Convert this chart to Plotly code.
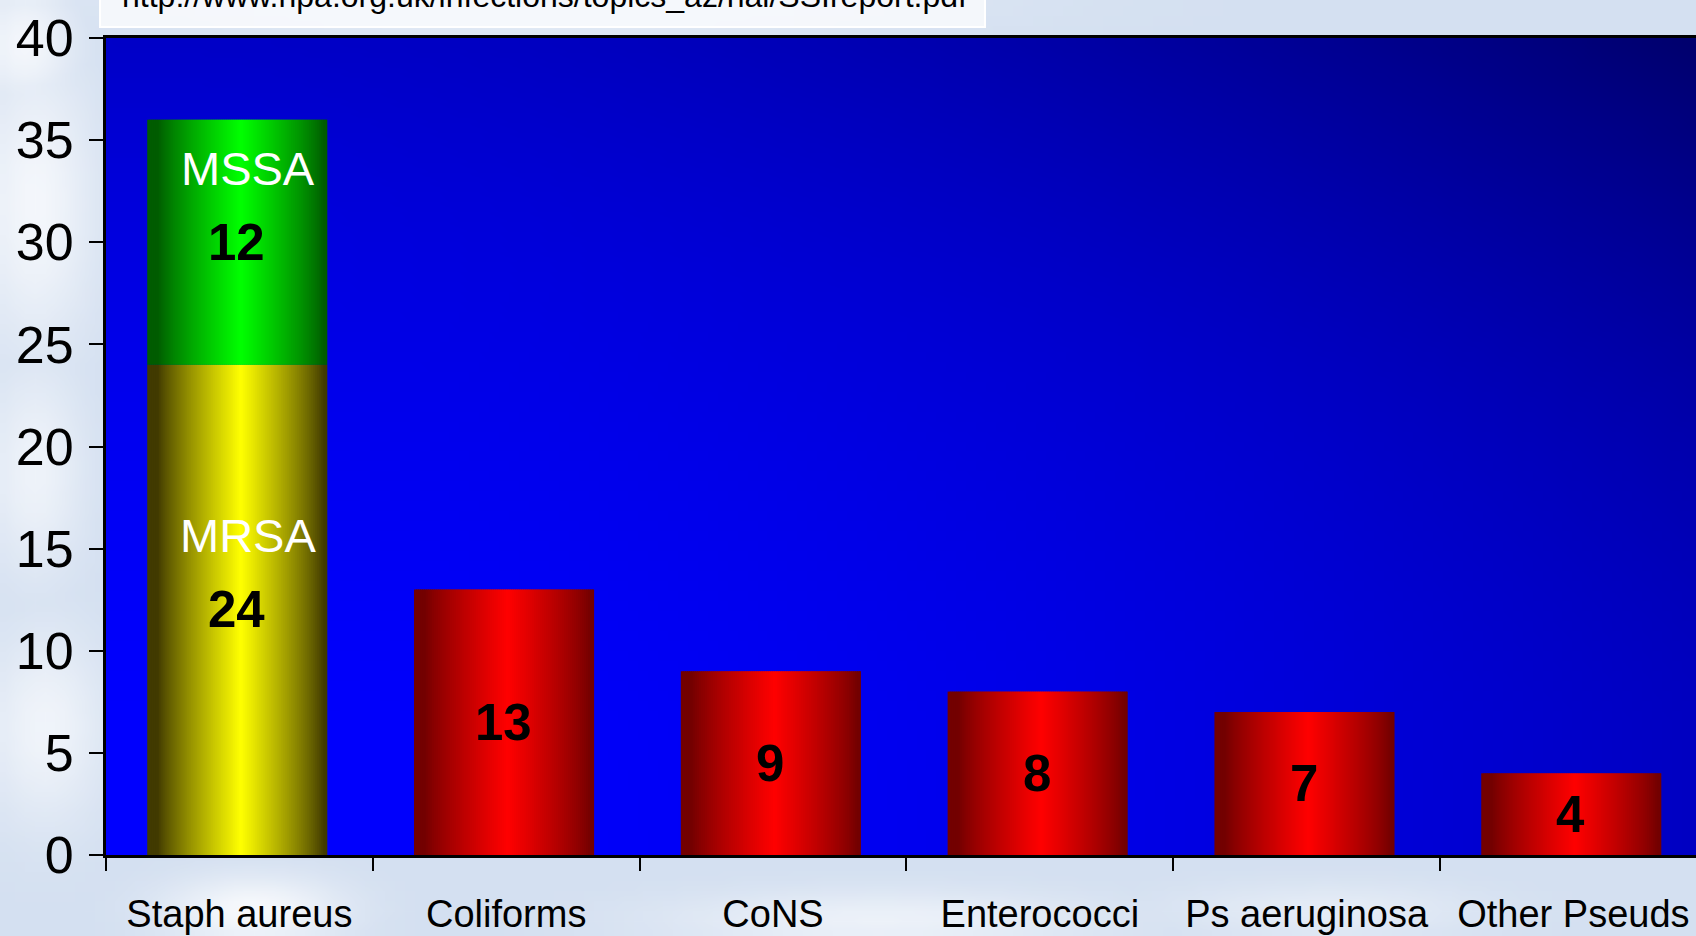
import base64
import struct
import zlib

import numpy as np
import plotly.graph_objects as go

# ---- data -------------------------------------------------------------
categories = ["Staph aureus", "Coliforms", "CoNS", "Enterococci", "Ps aeruginosa", "Other Pseuds"]
counts = [24, 13, 9, 8, 7, 4]          # first bar is the MRSA part of Staph aureus
mssa_count = 12                        # MSSA stacked on top of MRSA
segment_names = ["MRSA", "MSSA"]
y_ticks = [0, 5, 10, 15, 20, 25, 30, 35, 40]
source_url = "http://www.hpa.org.uk/infections/topics_az/hai/SSIreport.pdf"

# ---- geometry of the figure -------------------------------------------
W, H = 1696, 936
ML, MR, MT, MB = 106, 0, 38, 81
PW, PH = W - ML - MR, H - MT - MB
CAT_PX = 266.8                       # pixel width of one category slot
X_MAX = -0.5 + PW / CAT_PX           # right edge of the plot falls inside the last slot
BAR_W = 0.675
BAR_SHIFT = -0.008                   # bars sit a hair left of the slot centre
N_SLICES = 90


def png_uri(rgb):
    """Encode an HxWx3 uint8 array as a PNG data URI."""
    h, w, _ = rgb.shape
    raw = b"".join(b"\x00" + rgb[i].tobytes() for i in range(h))

    def chunk(tag, data):
        return (struct.pack(">I", len(data)) + tag + data
                + struct.pack(">I", zlib.crc32(tag + data) & 0xFFFFFFFF))

    png = (b"\x89PNG\r\n\x1a\n"
           + chunk(b"IHDR", struct.pack(">IIBBBBB", w, h, 8, 2, 0, 0, 0))
           + chunk(b"IDAT", zlib.compress(raw, 9))
           + chunk(b"IEND", b""))
    return "data:image/png;base64," + base64.b64encode(png).decode()


# plot-area fill: bright blue bottom-left fading to navy top-right
gw, gh = 160, 82
u = np.linspace(0, 1, gw)[None, :]
v = np.linspace(1, 0, gh)[:, None]      # row 0 is the top
blue = 255 - 60 * u**2 - 55 * v**2 - 30 * (u**2) * (v**2)
plot_bg = np.zeros((gh, gw, 3), dtype=np.uint8)
plot_bg[..., 2] = np.clip(blue, 0, 255).astype(np.uint8)

# page backdrop: pale blue with soft white clouds
bw, bh = 170, 94
xs = np.linspace(0, W, bw)[None, :]
ys = np.linspace(0, H, bh)[:, None]
base = np.array([212, 224, 241], dtype=float)
white = np.array([248, 250, 253], dtype=float)
clouds = [
    (30, 200, 60, 150, 0.9), (30, 470, 50, 110, 0.75), (40, 730, 60, 100, 0.8),
    (520, 0, 420, 40, 0.5), (250, 915, 90, 35, 1.0), (880, 925, 220, 30, 0.7),
    (1330, 915, 160, 28, 0.5), (20, 40, 50, 60, 0.9),
]
mix = np.zeros((bh, bw))
for cx, cy, sx, sy, wgt in clouds:
    mix = np.maximum(mix, wgt * np.exp(-(((xs - cx) / sx) ** 2 + ((ys - cy) / sy) ** 2)))
page_bg = (base[None, None, :] * (1 - mix[..., None]) + white[None, None, :] * mix[..., None])
page_bg = page_bg.astype(np.uint8)


# ---- bar shading: dark edges, bright centre ---------------------------
def shade(edge, centre, t):
    m = max(0.0, 1 - abs(2 * t - 1.04) / 0.92) ** 0.85
    m = min(m, 1.0)
    c = [e + (k - e) * m for e, k in zip(edge, centre)]
    return "rgb(%d,%d,%d)" % tuple(int(round(x)) for x in c)


RED = ((115, 0, 0), (255, 0, 0))
YELLOW = ((65, 58, 0), (255, 255, 0))
GREEN = ((0, 92, 0), (0, 255, 0))
bar_palette = [YELLOW] + [RED] * (len(categories) - 1)

fig = go.Figure()
step = BAR_W / N_SLICES
for k in range(N_SLICES):
    t = (k + 0.5) / N_SLICES
    off = BAR_SHIFT - BAR_W / 2 + k * step
    wid = step * (1.6 if k < N_SLICES - 1 else 1.0)
    fig.add_trace(go.Bar(
        x=categories, y=counts, base=[0] * len(counts),
        offset=off, width=wid,
        marker=dict(color=[shade(e, c, t) for e, c in bar_palette], line=dict(width=0)),
        hoverinfo="skip", showlegend=False,
    ))
    fig.add_trace(go.Bar(
        x=[categories[0]], y=[mssa_count], base=[counts[0]],
        offset=off, width=wid,
        marker=dict(color=shade(GREEN[0], GREEN[1], t), line=dict(width=0)),
        hoverinfo="skip", showlegend=False,
    ))

VALUE_FONT = dict(family="Liberation Sans, Arial", size=51, color="black")

# value labels in the middle of each segment
for cat, val in zip(categories, counts):
    fig.add_annotation(x=cat, y=val / 2, text="<b>%d</b>" % val, showarrow=False,
                       font=VALUE_FONT, xref="x", yref="y", xshift=-3)
fig.add_annotation(x=categories[0], y=counts[0] + mssa_count / 2, text="<b>%d</b>" % mssa_count,
                   showarrow=False, font=VALUE_FONT, xref="x", yref="y", xshift=-3)

# segment names above the values on the stacked bar
name_mid = [counts[0] / 2, counts[0] + mssa_count / 2]
for name, ymid in zip(segment_names, name_mid):
    fig.add_annotation(x=categories[0], y=ymid, text=name, showarrow=False,
                       xshift=9, yshift=74, xref="x", yref="y",
                       font=dict(family="Liberation Sans, Arial", size=47, color="white"))

# source box at the top, partly running off the page
fig.add_shape(type="rect", xref="paper", yref="paper",
              x0=(100 - ML) / PW, x1=(985 - ML) / PW,
              y0=(H - MB - 27) / PH, y1=(H - MB + 6) / PH,
              fillcolor="rgba(246,248,252,0.92)", line=dict(color="white", width=2))
fig.add_annotation(xref="paper", yref="paper", x=(120 - ML) / PW, y=(H - MB - 16) / PH,
                   xanchor="left", yanchor="bottom", text=source_url, showarrow=False,
                   font=dict(family="Liberation Sans, Arial", size=32, color="black"))

fig.update_layout(
    width=W, height=H,
    margin=dict(l=ML, r=MR, t=MT, b=MB, pad=0, autoexpand=False),
    barmode="overlay",
    paper_bgcolor="rgba(0,0,0,0)",
    plot_bgcolor="rgba(0,0,0,0)",
    showlegend=False,
    images=[
        dict(source=png_uri(page_bg), xref="paper", yref="paper",
             x=-ML / PW, y=1 + MT / PH, sizex=W / PW, sizey=H / PH,
             sizing="stretch", layer="below", xanchor="left", yanchor="top"),
        dict(source=png_uri(plot_bg), xref="paper", yref="paper",
             x=0, y=1, sizex=1, sizey=1,
             sizing="stretch", layer="below", xanchor="left", yanchor="top"),
    ],
)
fig.update_xaxes(
    type="category", categoryorder="array", categoryarray=categories,
    range=[-0.5, X_MAX], tickson="boundaries", tickangle=0, automargin=False,
    ticks="outside", ticklen=13, tickwidth=2, tickcolor="black",
    showline=True, linewidth=3, linecolor="black", mirror=True,
    showgrid=False, ticklabelstandoff=23,
    tickfont=dict(family="Liberation Sans, Arial", size=38, color="black"),
)
fig.update_yaxes(
    range=[0, 40], tickvals=y_ticks, automargin=False,
    ticks="outside", ticklen=14, tickwidth=2, tickcolor="black",
    showline=True, linewidth=3, linecolor="black",
    showgrid=False, zeroline=False, ticklabelstandoff=5,
    tickfont=dict(family="Liberation Sans, Arial", size=52, color="black"),
)

fig.write_html("out.html")
